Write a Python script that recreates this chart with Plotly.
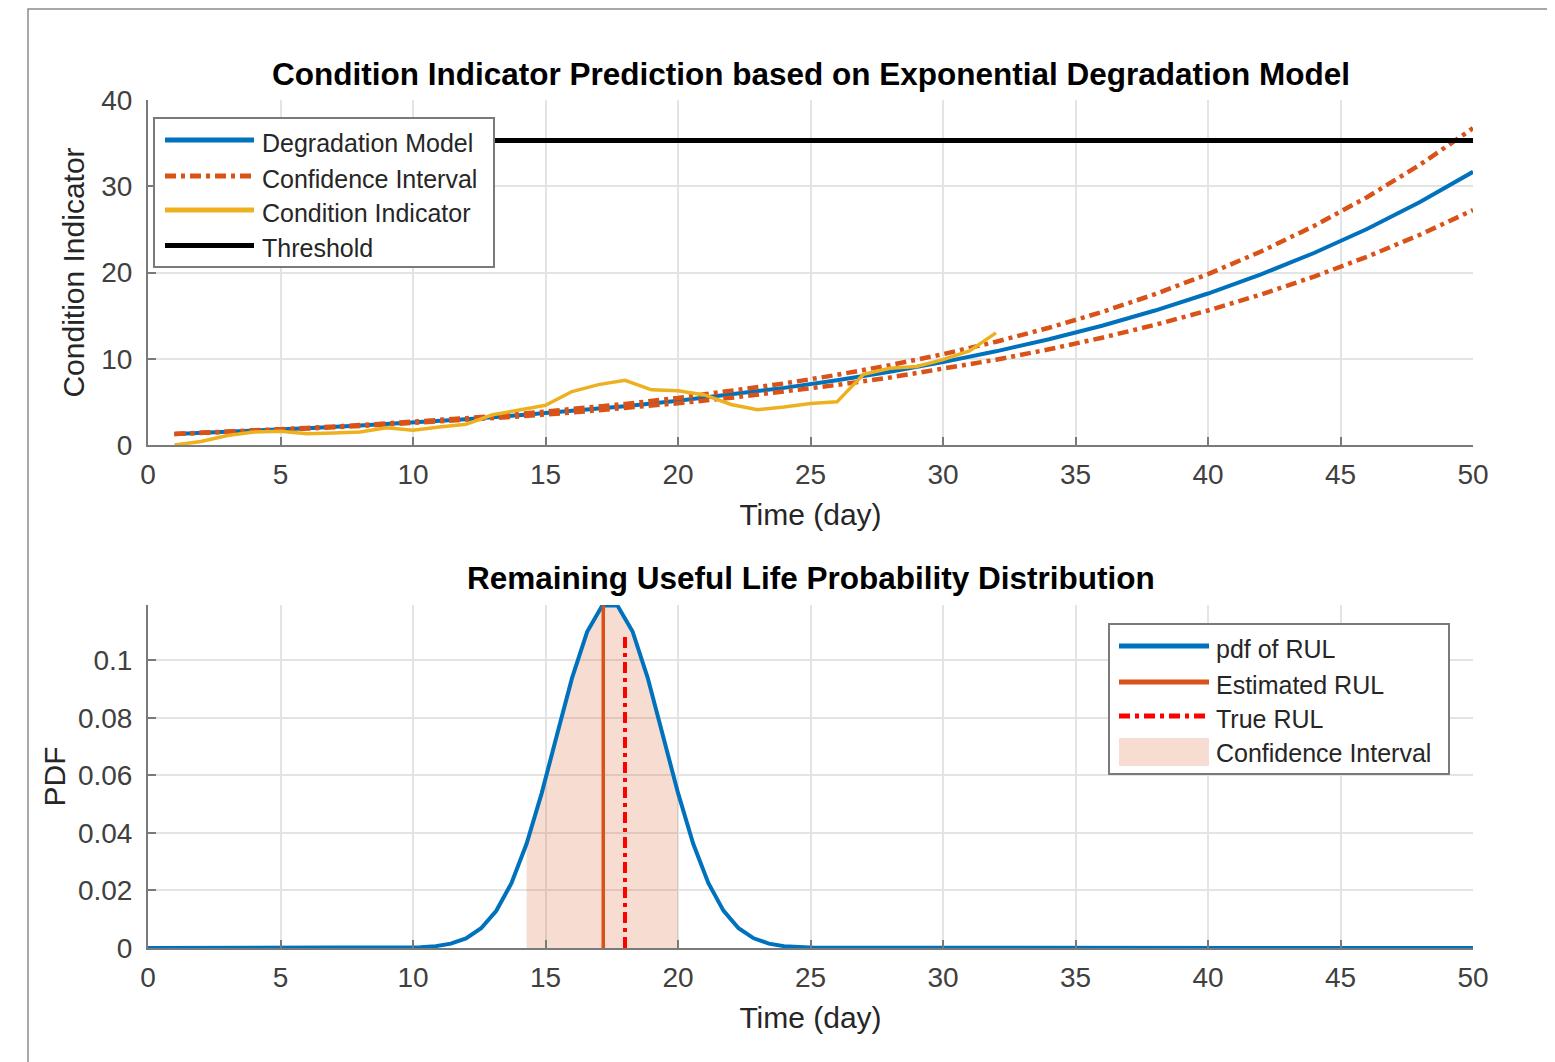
import plotly.graph_objects as go
from plotly.subplots import make_subplots

# Top panel - degradation model and its confidence band (days)
model_days = [1, 2, 4, 6, 8, 10, 12, 14, 16, 18, 20, 22, 24, 26, 28, 30,
              32, 34, 36, 38, 40, 42, 44, 46, 48, 50]
model_ci = [1.285, 1.400, 1.650, 1.932, 2.247, 2.601, 2.998, 3.443, 3.942, 4.501,
            5.129, 5.832, 6.622, 7.507, 8.499, 9.612, 10.860, 12.260, 13.830, 15.590,
            17.564, 19.778, 22.261, 25.045, 28.167, 31.669]
upper_ci = [1.289, 1.409, 1.671, 1.969, 2.305, 2.684, 3.113, 3.597, 4.144, 4.760,
            5.457, 6.243, 7.131, 8.132, 9.261, 10.535, 11.972, 13.594, 15.423, 17.486,
            19.812, 22.436, 25.395, 28.732, 32.493, 36.736]
lower_ci = [1.281, 1.392, 1.632, 1.900, 2.197, 2.528, 2.897, 3.308, 3.765, 4.274,
            4.842, 5.473, 6.177, 6.961, 7.833, 8.805, 9.887, 11.093, 12.436, 13.931,
            15.597, 17.452, 19.518, 21.819, 24.381, 27.235]

# Measured condition indicator
meas_days = list(range(1, 33))
meas_ci = [0.0, 0.4, 1.1, 1.5, 1.6, 1.3, 1.4, 1.5, 2.0, 1.7, 2.1, 2.4, 3.5, 4.0, 4.6, 6.2,
           7.0, 7.5, 6.4, 6.3, 5.8, 4.7, 4.1, 4.4, 4.8, 5.0, 8.2, 8.9, 9.1, 9.9, 10.9, 13.0]

thr_days = [1, 50]
thr_vals = [35.3, 35.3]

# Bottom panel - RUL pdf
rul_days = [0, 10.286, 10.857, 11.429, 12.000, 12.571, 13.143, 13.714, 14.286, 14.857,
            15.429, 16.000, 16.571, 17.143, 17.714, 18.286, 18.857, 19.429, 20.000,
            20.571, 21.143, 21.714, 22.286, 22.857, 23.429, 24.000, 24.571, 25.143, 50]
rul_pdf = [0, 0.00025, 0.00064, 0.00152, 0.00336, 0.00685, 0.01293, 0.02249, 0.03622,
           0.05383, 0.07394, 0.09378, 0.1099, 0.1190, 0.1190, 0.1100, 0.0939, 0.0740,
           0.0539, 0.0363, 0.0226, 0.0130, 0.00687, 0.00337, 0.00152, 0.00064, 0.00025,
           0.00009, 0]

est_rul = 17.18
est_top = 0.1190
true_rul = 18.0
true_top = 0.1085

# confidence interval is the pdf between 14.286 and 20.0
ci_lo, ci_hi = 8, 18

blue = '#0072BD'
orange = '#D95319'
yellow = '#EDB120'
red = '#FF0000'
txt = '#262626'
font_name = 'Liberation Sans, Arial, sans-serif'
dashdot = '11px,5px,4px,5px'

# figure size / plot area in pixels (page has an 8px body margin)
W, H = 1547, 1054
L, R = 140, 82
PW = W - L - R


def px(x):
    return (x - L) / PW


def py(y):
    return (H - y) / H


fig = make_subplots(rows=2, cols=1)

# top
fig.add_trace(go.Scatter(x=model_days, y=model_ci, mode='lines', name='Degradation Model',
                         line=dict(color=blue, width=4)), row=1, col=1)
fig.add_trace(go.Scatter(x=model_days, y=upper_ci, mode='lines', name='Confidence Interval',
                         line=dict(color=orange, width=4.5, dash=dashdot)), row=1, col=1)
fig.add_trace(go.Scatter(x=model_days, y=lower_ci, mode='lines', name='Confidence Interval',
                         line=dict(color=orange, width=4.5, dash=dashdot)), row=1, col=1)
fig.add_trace(go.Scatter(x=meas_days, y=meas_ci, mode='lines', name='Condition Indicator',
                         line=dict(color=yellow, width=3.5)), row=1, col=1)
fig.add_trace(go.Scatter(x=thr_days, y=thr_vals, mode='lines', name='Threshold',
                         line=dict(color='black', width=5)), row=1, col=1)

# bottom
fig.add_trace(go.Scatter(x=rul_days[ci_lo:ci_hi + 1], y=rul_pdf[ci_lo:ci_hi + 1], mode='lines',
                         fill='tozeroy', fillcolor='rgba(217,83,25,0.2)', line=dict(width=0),
                         name='Confidence Interval'), row=2, col=1)
fig.add_trace(go.Scatter(x=rul_days, y=rul_pdf, mode='lines', name='pdf of RUL',
                         line=dict(color=blue, width=4)), row=2, col=1)
fig.add_trace(go.Scatter(x=[est_rul, est_rul], y=[0, est_top], mode='lines', name='Estimated RUL',
                         line=dict(color=orange, width=3.5)), row=2, col=1)
fig.add_trace(go.Scatter(x=[true_rul, true_rul], y=[0, true_top], mode='lines', name='True RUL',
                         line=dict(color=red, width=4, dash=dashdot)), row=2, col=1)
fig.update_traces(showlegend=False)

axis_style = dict(showline=True, linecolor='#7a7a7a', linewidth=2, ticks='inside', ticklen=8,
                  tickcolor='#7a7a7a', tickwidth=1.5, showgrid=True, gridcolor='#e4e4e4',
                  gridwidth=1.5, zeroline=False, mirror=False,
                  tickfont=dict(size=28, color='#404040', family=font_name))

fig.update_xaxes(axis_style)
fig.update_yaxes(axis_style)

fig.update_xaxes(range=[0, 50], dtick=5, ticklabelstandoff=3,
                 title=dict(text='Time (day)', font=dict(size=30, color=txt), standoff=15))
fig.update_yaxes(range=[0, 40], dtick=10, domain=[py(437), py(92)], ticklabelstandoff=8,
                 title=dict(text='Condition Indicator', font=dict(size=30, color=txt), standoff=8),
                 row=1, col=1)
fig.update_yaxes(range=[0, 0.1192], dtick=0.02, domain=[py(940), py(597)], ticklabelstandoff=8,
                 title=dict(text='PDF', font=dict(size=30, color=txt), standoff=3),
                 row=2, col=1)

# hand-made legends (MATLAB style, long line samples)
shapes = [dict(type='rect', xref='paper', yref='paper',
               x0=px(20), x1=px(1540), y0=py(1070), y1=py(1),
               line=dict(color='#8c8c8c', width=1.5))]
annotations = []

top_items = [('Degradation Model', blue, 'solid', 132),
             ('Confidence Interval', orange, dashdot, 168),
             ('Condition Indicator', yellow, 'solid', 202),
             ('Threshold', 'black', 'solid', 237.5)]
bot_items = [('pdf of RUL', blue, 'solid', 638),
             ('Estimated RUL', orange, 'solid', 674),
             ('True RUL', red, dashdot, 708)]

shapes.append(dict(type='rect', xref='paper', yref='paper', layer='above',
                   x0=px(146), x1=px(486), y0=py(259), y1=py(110),
                   fillcolor='white', line=dict(color='#7a7a7a', width=2)))
for name, col, dash, yy in top_items:
    shapes.append(dict(type='line', xref='paper', yref='paper', layer='above',
                       x0=px(157), x1=px(246), y0=py(yy), y1=py(yy),
                       line=dict(color=col, width=5, dash=dash)))
    annotations.append(dict(text=name, x=px(252), y=py(yy + 3), xref='paper', yref='paper',
                            xanchor='left', yanchor='middle', showarrow=False,
                            font=dict(size=25, color=txt)))

shapes.append(dict(type='rect', xref='paper', yref='paper', layer='above',
                   x0=px(1101), x1=px(1441), y0=py(766), y1=py(616),
                   fillcolor='white', line=dict(color='#7a7a7a', width=2)))
for name, col, dash, yy in bot_items:
    shapes.append(dict(type='line', xref='paper', yref='paper', layer='above',
                       x0=px(1111), x1=px(1201), y0=py(yy), y1=py(yy),
                       line=dict(color=col, width=5, dash=dash)))
    annotations.append(dict(text=name, x=px(1206), y=py(yy + 3), xref='paper', yref='paper',
                            xanchor='left', yanchor='middle', showarrow=False,
                            font=dict(size=25, color=txt)))
shapes.append(dict(type='rect', xref='paper', yref='paper', layer='above',
                   x0=px(1111), x1=px(1201), y0=py(758), y1=py(730),
                   fillcolor='#f7ddd1', line=dict(width=0)))
annotations.append(dict(text='Confidence Interval', x=px(1206), y=py(745), xref='paper',
                        yref='paper', xanchor='left', yanchor='middle', showarrow=False,
                        font=dict(size=25, color=txt)))

# titles
annotations.append(dict(text='<b>Condition Indicator Prediction based on Exponential Degradation Model</b>',
                        x=0.5, y=py(66), xref='paper', yref='paper', showarrow=False,
                        xanchor='center', yanchor='middle', font=dict(size=31.5, color='black')))
annotations.append(dict(text='<b>Remaining Useful Life Probability Distribution</b>',
                        x=0.5, y=py(570), xref='paper', yref='paper', showarrow=False,
                        xanchor='center', yanchor='middle', font=dict(size=31.5, color='black')))

fig.update_layout(
    width=W, height=H,
    margin=dict(l=L, r=R, t=0, b=0, autoexpand=False),
    paper_bgcolor='white', plot_bgcolor='white',
    font=dict(family=font_name, color=txt),
    showlegend=False,
    shapes=shapes,
    annotations=annotations,
)

fig.write_html("out.html")
